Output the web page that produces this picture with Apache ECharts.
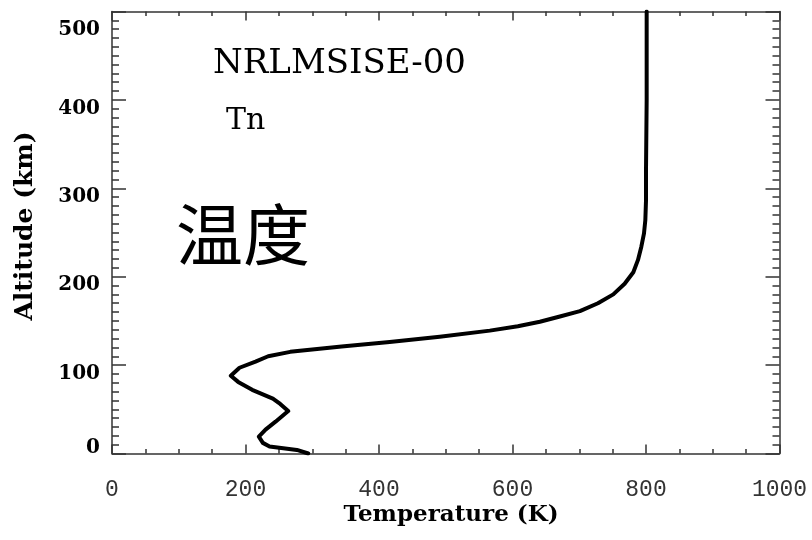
<!DOCTYPE html>
<html>
<head>
<meta charset="utf-8">
<title>NRLMSISE-00 Tn</title>
<script src="https://cdn.jsdelivr.net/npm/echarts@6/dist/echarts.min.js"></script>
<style>
  html, body { margin: 0; padding: 0; background: #fff; }
  #chart { width: 812px; height: 540px; }
</style>
</head>
<body>
<div id="chart"></div>
<script>
// Neutral temperature profile (NRLMSISE-00), altitude in km vs temperature in K
const altitudes = [0, 4, 8, 12, 19, 27, 36, 48, 56, 62, 72, 81, 88, 97, 104, 110, 115, 121, 126, 132,
  139, 144, 149, 155, 161, 170, 180, 192, 205, 219, 234, 249, 264, 286, 320, 400, 500];
const temperatures = [294, 277, 236, 226, 220, 230, 245, 264, 252, 241, 210, 189, 178, 191, 215, 234, 267, 344, 416, 491,
  566, 608, 641, 671, 701, 728, 751, 768, 781, 788, 793, 797, 799, 800, 800, 801, 801];

const xTicks = { min: 0, max: 1000, interval: 200 };
const yTicks = { min: 0, max: 500, interval: 100 };

const modelName = 'NRLMSISE-00';
const variableName = 'Tn';
const heading = '温度';
const xTitle = 'Temperature (K)';
const yTitle = 'Altitude (km)';

const profile = altitudes.map((h, i) => [temperatures[i], h]);

const axisColor = '#333';
const serifBold = { fontFamily: 'DejaVu Serif', fontWeight: 'bold', fontSize: 20, color: '#000' };

// Shared frame axis: line, inward ticks and minor ticks, kept at the grid edge
function frameAxis(pos, range, tickLen, minorSplit, label) {
  return {
    type: 'value',
    position: pos,
    min: range.min, max: range.max, interval: range.interval,
    axisLine: { show: true, onZero: false, lineStyle: { color: axisColor, width: 1.5 } },
    splitLine: { show: false },
    axisTick: { show: true, inside: true, length: tickLen, lineStyle: { color: axisColor, width: 1.5 } },
    minorTick: { show: true, splitNumber: minorSplit, length: tickLen / 2, lineStyle: { color: axisColor, width: 1.5 } },
    axisLabel: label || { show: false }
  };
}

const chart = echarts.init(document.getElementById('chart'), null, { renderer: 'canvas' });

chart.setOption({
  animation: false,
  backgroundColor: '#fff',
  grid: { left: 112, right: 32.5, top: 11.5, bottom: 86.5, containLabel: false },
  xAxis: [
    frameAxis('bottom', xTicks, 9, 4, {
      show: true, margin: 25,
      formatter: function (v) { return String(v); },
      fontFamily: 'Liberation Mono', fontSize: 23, color: '#333'
    }),
    frameAxis('top', xTicks, 9, 4)
  ],
  yAxis: [
    frameAxis('left', yTicks, 14, 10, {
      show: true, margin: 12,
      formatter: function (v) {
        if (v === yTicks.max) return '{hi|' + v + '}';
        if (v === yTicks.min) return '{lo|' + v + '}';
        return '{mid|' + v + '}';
      },
      rich: {
        hi: Object.assign({ padding: [36, 0, 0, 0] }, serifBold),
        mid: Object.assign({ padding: [17, 0, 0, 0] }, serifBold),
        lo: Object.assign({ padding: [0, 0, 12, 0] }, serifBold)
      }
    }),
    frameAxis('right', yTicks, 14, 10)
  ],
  series: [{
    type: 'line',
    xAxisIndex: 0,
    yAxisIndex: 0,
    data: profile,
    showSymbol: false,
    smooth: false,
    clip: true,
    lineStyle: { color: '#000', width: 4, join: 'round', cap: 'round' }
  }],
  graphic: [
    {
      type: 'text', x: 213, y: 64,
      style: { text: modelName, fill: '#000', font: '34px "DejaVu Serif"', align: 'left', verticalAlign: 'middle' }
    },
    {
      type: 'text', x: 226, y: 121,
      style: { text: variableName, fill: '#000', font: '30px "DejaVu Serif"', align: 'left', verticalAlign: 'middle' }
    },
    {
      type: 'text', x: 243, y: 235,
      style: { text: heading, fill: '#000', font: '67px "Noto Sans CJK SC"', align: 'center', verticalAlign: 'middle' }
    },
    {
      type: 'text', x: 25, y: 226, rotation: Math.PI / 2,
      style: { text: yTitle, fill: '#000', font: 'bold 25px "DejaVu Serif"', align: 'center', verticalAlign: 'middle' }
    },
    {
      type: 'text', x: 451, y: 515,
      style: { text: xTitle, fill: '#000', font: 'bold 23px "DejaVu Serif"', align: 'center', verticalAlign: 'middle' }
    }
  ]
});
</script>
</body>
</html>
